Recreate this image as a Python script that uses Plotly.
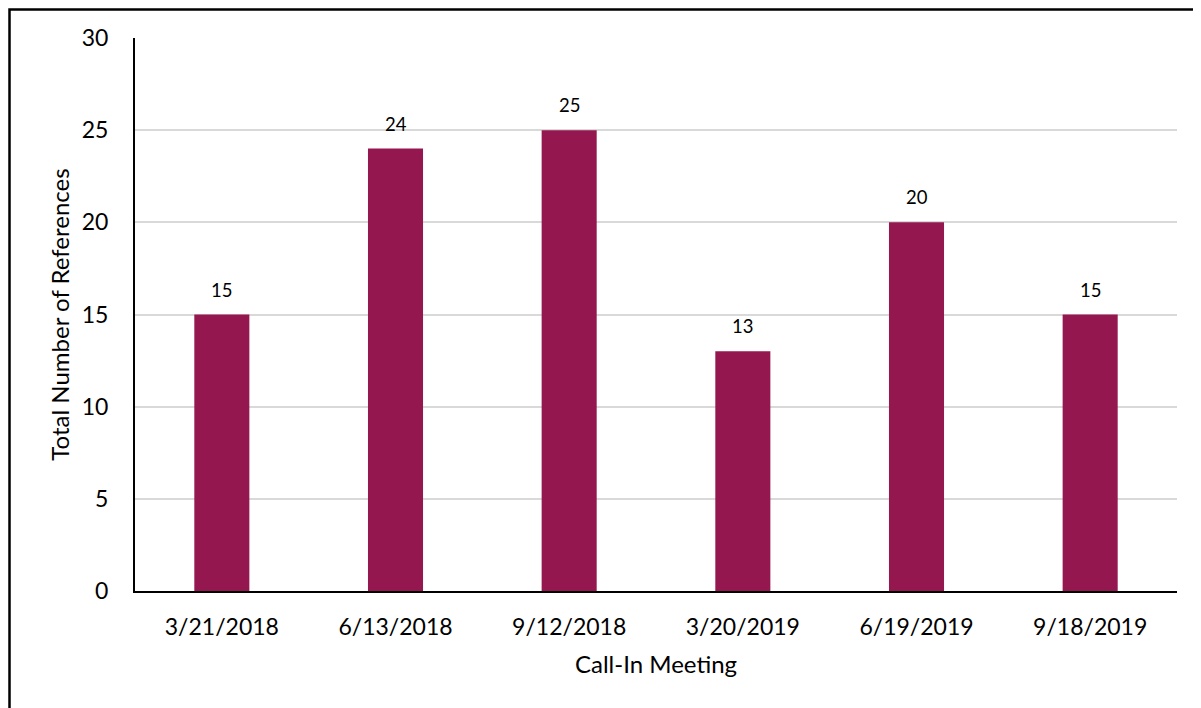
import plotly.graph_objects as go

categories = ["3/21/2018", "6/13/2018", "9/12/2018", "3/20/2019", "6/19/2019", "9/18/2019"]
values = [15, 24, 25, 13, 20, 15]

fig = go.Figure(go.Bar(
    x=categories, y=values,
    marker=dict(color="#95174F", line=dict(width=0)),
    width=0.317,
))

for c, v in zip(categories, values):
    fig.add_annotation(x=c, y=v, text=str(v), showarrow=False,
                       yanchor="middle", yshift=25,
                       font=dict(size=18.5, color="#000000", family="Lato"))

W, H = 1193, 700
L, R, T, B = 127, 24, 30, 117
pw, ph = W - L - R, H - T - B

fig.update_layout(
    width=W, height=H,
    margin=dict(l=L, r=R, t=T, b=B, autoexpand=False),
    paper_bgcolor="white", plot_bgcolor="white",
    font=dict(family="Lato", color="#000000"),
    showlegend=False,
    xaxis=dict(
        title=dict(text="Call-In Meeting", font=dict(size=24), standoff=18),
        tickfont=dict(size=23),
        showline=True, linecolor="#000000", linewidth=2,
        showgrid=False, ticks="", ticklen=0, ticklabelstandoff=14,
    ),
    yaxis=dict(
        title=dict(text="Total Number of References", font=dict(size=24), standoff=5),
        range=[0, 30], dtick=5,
        tickfont=dict(size=23),
        showline=True, linecolor="#000000", linewidth=2,
        showgrid=True, gridcolor="#D9D9D9", gridwidth=1.5,
        zeroline=False, ticks="", ticklen=0, ticklabelstandoff=20,
    ),
    shapes=[dict(type="rect", xref="paper", yref="paper",
                 x0=(1.5 - L) / pw, x1=1.2, y0=-0.5, y1=1 + (T - 1.5) / ph,
                 line=dict(color="#000000", width=2.5), layer="above")],
)

fig.write_html("out.html")
